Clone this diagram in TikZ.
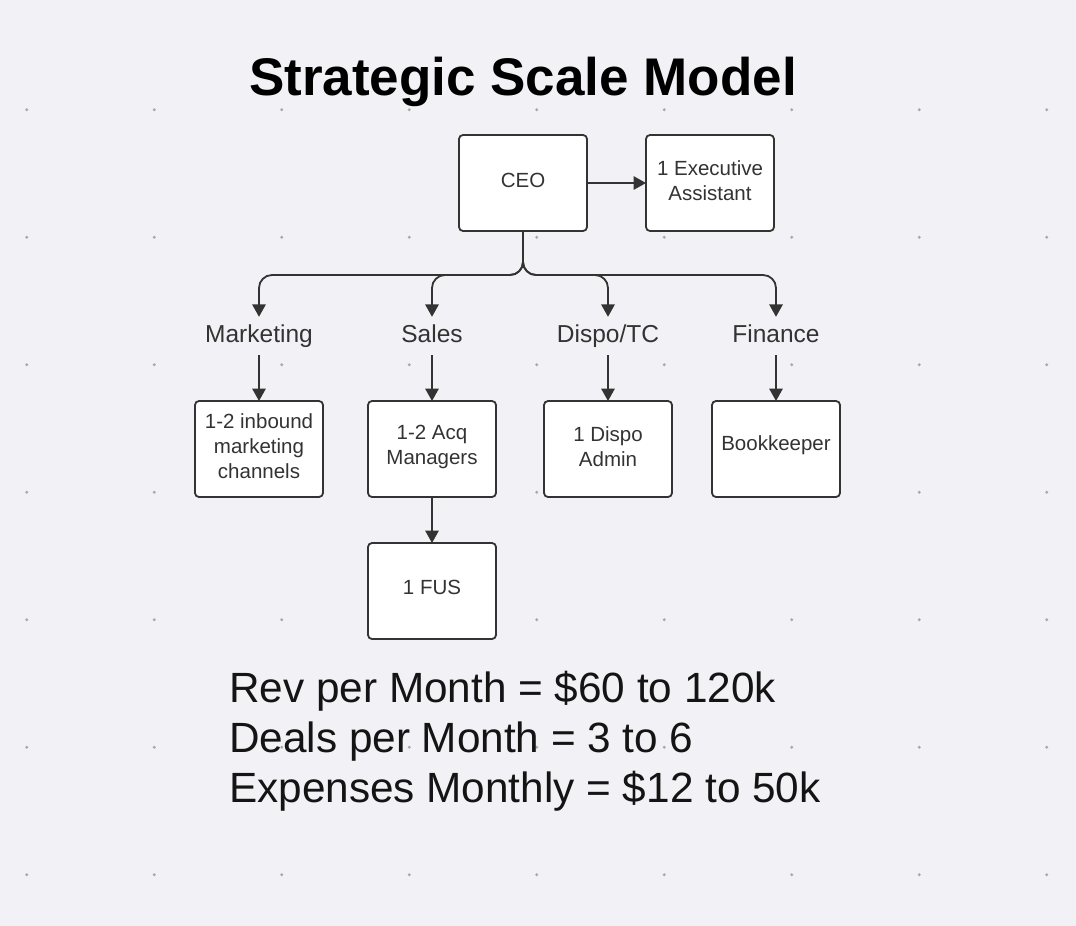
\documentclass[tikz,border=0pt]{standalone}
\usepackage{fontspec}
\setmainfont{Liberation Sans}
\usetikzlibrary{arrows.meta}
\definecolor{bg}{HTML}{F2F2F6}
\definecolor{ink}{HTML}{333333}
\definecolor{dotc}{HTML}{A8A8AE}
\tikzset{
  orgbox/.style={draw=ink, line width=1.8pt, fill=white, rounded corners=4pt,
    minimum width=128pt, minimum height=96pt, inner sep=0pt, outer sep=0pt, align=center,
    text=ink, font=\fontsize{20.5}{25}\selectfont, anchor=north west},
  boxtext/.style={inner sep=0pt, align=center, text=ink, font=\fontsize{20.5}{25}\selectfont},
  lbl/.style={inner sep=0pt, text height=25pt, text depth=13pt, anchor=base, text=ink, font=\fontsize{24.5}{28}\selectfont},
  conn/.style={draw=ink, line width=1.8pt, -{Triangle[width=13.5pt,length=12.5pt]}},
  branch/.style={conn, rounded corners=13pt},
  stat/.style={anchor=base west, inner sep=0pt, text=black!92, font=\fontsize{42.3}{48}\selectfont}
}
\begin{document}
\begin{tikzpicture}[x=1pt,y=-1pt]
\fill[bg] (0,0) rectangle (1076,926);
\useasboundingbox (0,0) rectangle (1076,926);
% dot grid
\foreach \i in {0,...,8}{
  \foreach \j in {0,...,6}{
    \fill[dotc] (26.7+127.5*\i, 109.7+127.5*\j) circle (1.6pt);
  }
}
% title
\node[anchor=base, inner sep=0pt, font=\fontsize{53}{60}\selectfont\bfseries] (title) at (523,95) {Strategic Scale Model};
% top row
\node[orgbox] (ceo) at (459,135) {};
\node[boxtext] at (ceo.center |- 0,180) {CEO};
\node[orgbox] (ea) at (646,135) {};
\node[boxtext] at (ea.center |- 0,180.5) {1 Executive\\Assistant};
\draw[conn] (ceo.east |- 0,183) coordinate (ceoe) -- (ea.west |- ceoe);
% labels
\node[lbl] (mkt) at (259,342) {Marketing};
\node[lbl] (sal) at (432,342) {Sales};
\node[lbl] (dis) at (608,342) {Dispo/TC};
\node[lbl] (fin) at (776,342) {Finance};
\coordinate (j) at (ceo.south |- 0,275);
\draw[branch] (ceo.south) -- (j) -| (mkt.north);
\draw[branch] (ceo.south) -- (j) -| (sal.north);
\draw[branch] (ceo.south) -- (j) -| (dis.north);
\draw[branch] (ceo.south) -- (j) -| (fin.north);
% second row
\node[orgbox] (b1) at (195,401) {};
\node[boxtext] at (259,446) {1-2 inbound\\marketing\\channels};
\node[orgbox] (b2) at (368,401) {};
\node[boxtext] at (432,446.5) {1-2 Acq\\Managers};
\node[orgbox] (b3) at (544,401) {};
\node[boxtext] at (608,446.5) {1 Dispo\\Admin};
\node[orgbox] (b4) at (712,401) {};
\node[boxtext] at (776,445) {Bookkeeper};
\node[orgbox] (fus) at (368,543) {};
\node[boxtext] at (432,587) {1 FUS};
\draw[conn] (mkt.south) -- (mkt.south |- b1.north);
\draw[conn] (sal.south) -- (sal.south |- b2.north);
\draw[conn] (dis.south) -- (dis.south |- b3.north);
\draw[conn] (fin.south) -- (fin.south |- b4.north);
\draw[conn] (b2.south) -- (fus.north);
% stats
\node[stat] (s1) at (229,702) {Rev per Month = \$60 to 120k};
\node[stat] (s2) at (229,752) {Deals per Month = 3 to 6};
\node[stat] (s3) at (229,802) {Expenses Monthly = \$12 to 50k};
\end{tikzpicture}
\end{document}
